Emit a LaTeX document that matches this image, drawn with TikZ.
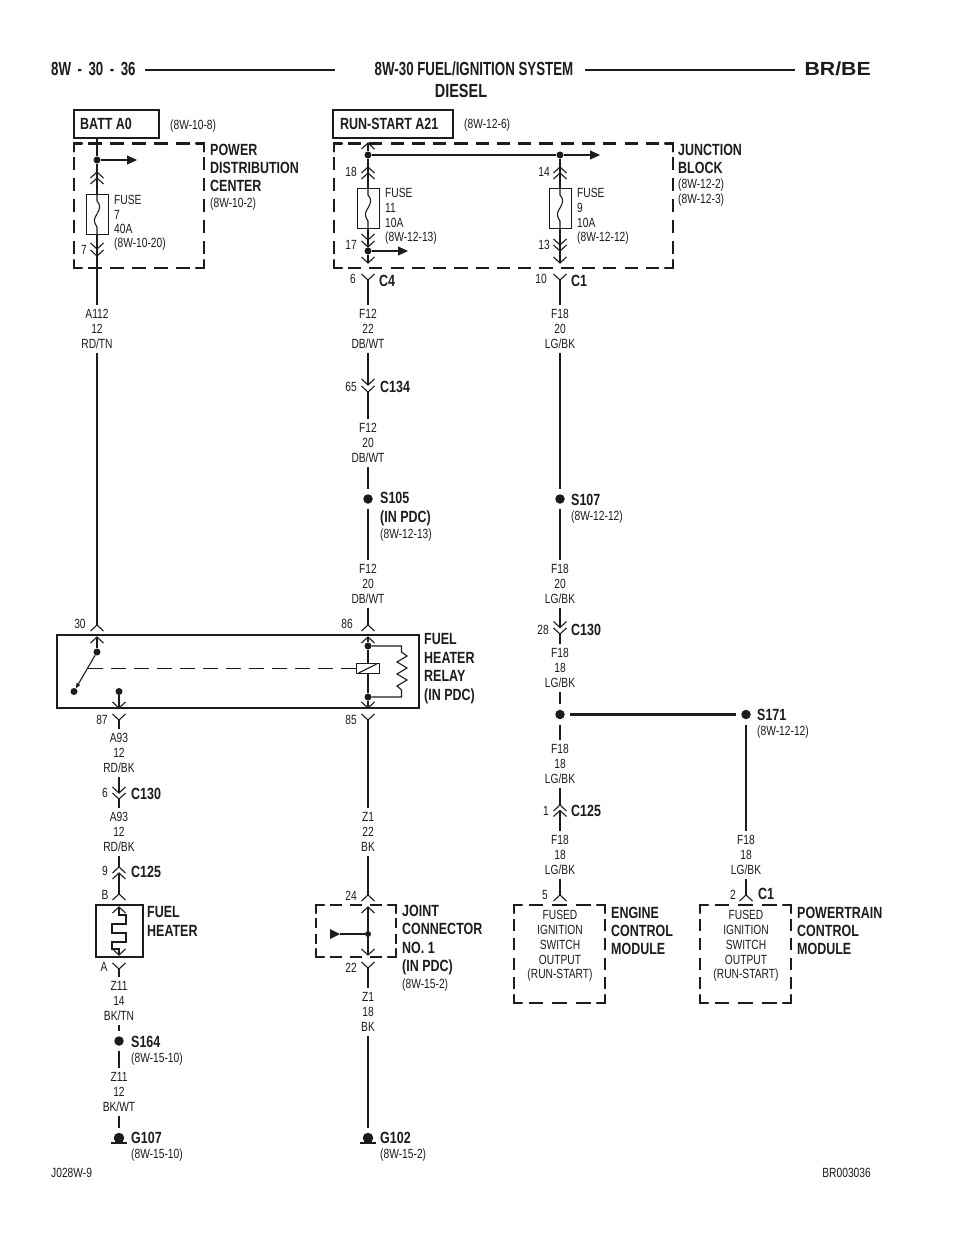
\documentclass[tikz,border=0pt]{standalone}
\usepackage{fontspec}
\setmainfont[FakeStretch=0.77]{Liberation Sans}
\newfontfamily\titlef[FakeStretch=0.70]{Liberation Sans}
\newfontfamily\titlewide[FakeStretch=0.76]{Liberation Sans}
\newfontfamily\widef[FakeStretch=1.12]{Liberation Sans}
\usetikzlibrary{arrows.meta,calc}
\definecolor{ink}{HTML}{1C1C1C}
\tikzset{
  wire/.style={line width=1.1pt,draw=ink},
  thick wire/.style={line width=2.4pt,draw=ink},
  frame/.style={line width=2.2pt,draw=ink},
  dot/.style={circle,fill=ink,inner sep=0pt,minimum size=7pt},
  bigdot/.style={circle,fill=ink,inner sep=0pt,minimum size=9.5pt,outer sep=5.5pt},
  grounddot/.style={circle,fill=ink,inner sep=0pt,minimum size=10.5pt,outer sep=5pt},
  wl/.style={align=center,inner xsep=0pt,inner ysep=4pt,text=ink,font=\fontsize{13.3}{15}\selectfont},
  mt/.style={align=center,inner sep=0pt,text=ink,font=\fontsize{13.3}{14.8}\selectfont},
  sm/.style={anchor=west,inner sep=0pt,text=ink,font=\fontsize{13.3}{15}\selectfont},
  pin/.style={anchor=center,inner sep=0pt,text=ink,font=\fontsize{13.3}{15}\selectfont},
  bl/.style={anchor=west,align=left,inner sep=0pt,text=ink,font=\bfseries\fontsize{16.2}{18.4}\selectfont},
  ttl/.style={inner sep=0pt,text=ink,font=\titlef\bfseries\fontsize{19}{20}\selectfont},
  arrowline/.style={wire,-{Triangle[length=10pt,width=9pt]}},
}
\newcommand\chevU[2]{\draw[wire,shift={(#1,#2)}] (-6.5,6) -- (0,0) -- (6.5,6);}
\newcommand\chevD[2]{\draw[wire,shift={(#1,#2)}] (-6.5,-6) -- (0,0) -- (6.5,-6);}
\newcommand\fusebox[3]{% name, x, top
  \node[draw=ink,line width=0.8pt,minimum width=22pt,minimum height=40pt,inner sep=0pt] (#1) at (#2,#3+20) {};
  \draw[wire,shift={(#2,#3)}] (0,0) -- (0,7) .. controls (3.5,11) and (3.5,14) .. (0,20) .. controls (-3.5,25) and (-3.5,28) .. (0,33) -- (0,40);
}
% dashed box with L corners and evenly spaced side dashes
\newcommand\dside[4]{%
  \pgfmathsetmacro\dsLen{veclen(#3-#1,#4-#2)}%
  \pgfmathsetmacro\dsNum{max(1,round((\dsLen-20)/21))}%
  \pgfmathsetmacro\dsPer{(\dsLen-20)/\dsNum}%
  \pgfmathsetmacro\dsOn{\dsPer*0.62}%
  \pgfmathsetmacro\dsOff{\dsPer*0.38}%
  \pgfmathsetmacro\dsPh{\dsOn+\dsOff/2}%
  \pgfmathsetmacro\dsFx{(#3-#1)/\dsLen*10}%
  \pgfmathsetmacro\dsFy{(#4-#2)/\dsLen*10}%
  \draw[frame,dash pattern=on \dsOn pt off \dsOff pt,dash phase=\dsPh pt] ({#1+\dsFx},{#2+\dsFy}) -- ({#3-\dsFx},{#4-\dsFy});
}
\newcommand\dbox[4]{%
  \draw[frame,line cap=round] (#1+8,#2) -- (#1,#2) -- (#1,#2+8);
  \draw[frame,line cap=round] (#3-8,#2) -- (#3,#2) -- (#3,#2+8);
  \draw[frame,line cap=round] (#1+8,#4) -- (#1,#4) -- (#1,#4-8);
  \draw[frame,line cap=round] (#3-8,#4) -- (#3,#4) -- (#3,#4-8);
  \dside{#1}{#2}{#3}{#2}\dside{#1}{#4}{#3}{#4}\dside{#1}{#2}{#1}{#4}\dside{#3}{#2}{#3}{#4}
}
\begin{document}
\begin{tikzpicture}[x=1pt,y=-1pt]
\useasboundingbox (0,0) rectangle (960,1242);
\fill[white] (0,0) rectangle (960,1242);
% ---------- title
\node[ttl,anchor=west] (t1) at (51,69) {8W\kern2.8pt\ -\kern2.8pt\ 30\kern2.8pt\ -\kern2.8pt\ 36};
\node[ttl] (t2) at (474,69) {8W-30 FUEL/IGNITION SYSTEM};
\node[anchor=east,inner sep=0pt,text=ink,font=\widef\bfseries\fontsize{19}{20}\selectfont] (t3) at (871,69) {BR/BE};
\node[inner sep=0pt,text=ink,font=\titlewide\bfseries\fontsize{19}{20}\selectfont] (t4) at (461,91) {DIESEL};
\coordinate (tl1) at (145,70); \coordinate (tl2) at (335,70); \coordinate (tl3) at (585,70); \coordinate (tl4) at (795,70);
\draw[thick wire] (tl1) -- (tl2);
\draw[thick wire] (tl3) -- (tl4);
% ---------- PDC
\node[frame,draw,minimum width=85.5pt,minimum height=28pt,inner sep=0pt] (batt) at (116.5,124) {};
\node[bl] (battt) at (80,124) {BATT A0};
\node[sm] (battr) at (170,126) {(8W-10-8)};
\dbox{74}{143.5}{204}{268}
\node[bl] (pdcl) at (210,168) {POWER\\DISTRIBUTION\\CENTER};
\node[sm] (pdcr) at (210,204) {(8W-10-2)};
\node[dot] (pd) at (97,160) {};
\coordinate (pdarr) at (137,160);
\draw[arrowline] (pd) -- (pdarr);
\fusebox{f7}{97}{194}
\draw[wire] (batt.south -| pd) -- (pd);
\coordinate (f7t) at (97,194); \coordinate (f7b) at (97,234); \coordinate (f7e) at (97,256);
\draw[wire] (pd) -- (f7t);
\draw[wire] (f7b) -- (f7e);
\chevU{97}{172}\chevU{97}{178}\chevD{97}{249}\chevD{97}{256}
\node[sm] (f7l) at (114,199.5) {FUSE};
\node[sm] (f7l2) at (114,214.5) {7};
\node[sm] (f7l3) at (114,229) {40A};
\node[sm] (f7l4) at (114,244.5) {(8W-10-20)};
\node[pin] (p7) at (84,250) {7};
\node[wl] (wa112) at (97,329) {A112\\12\\RD/TN};
\draw[wire] (f7e) -- (wa112.north);
\coordinate (r30) at (97,625);
\draw[wire] (wa112.south) -- (r30);
\chevU{97}{625}
\node[pin] (p30) at (80,624) {30};
% ---------- Junction block
\node[frame,draw,minimum width=120pt,minimum height=28pt,inner sep=0pt] (rs) at (393,124) {};
\node[bl] (rst) at (340,124) {RUN-START A21};
\node[sm] (rsr) at (464,125) {(8W-12-6)};
\dbox{334}{143.5}{673}{268}
\node[bl] (jbl) at (678,159) {JUNCTION\\BLOCK};
\node[sm] (jbr) at (678,185) {(8W-12-2)};
\node[sm] (jbr2) at (678,200) {(8W-12-3)};
\node[dot] (ja) at (368,155) {};
\node[dot] (jb) at (560,155) {};
\coordinate (jarr) at (600,155);
\coordinate (jtop) at (368,143);
\draw[wire] (jtop) -- (ja);
\draw[wire] (ja) -- (jb);
\draw[arrowline] (jb) -- (jarr);
\chevU{368}{143}
\chevU{368}{167}\chevU{368}{173}
\chevU{560}{167}\chevU{560}{173}
\fusebox{f11}{368}{188}
\fusebox{f9}{560}{188}
\coordinate (f11t) at (368,188); \coordinate (f11b) at (368,228); \coordinate (f11e) at (368,263);
\coordinate (f9t) at (560,188); \coordinate (f9b) at (560,228); \coordinate (f9e) at (560,263);
\draw[wire] (ja) -- (f11t);
\draw[wire] (jb) -- (f9t);
\node[dot] (jc) at (368,251) {};
\coordinate (jcarr) at (408,251);
\draw[wire] (f11b) -- (jc);
\draw[wire] (jc) -- (f11e);
\draw[arrowline] (jc) -- (jcarr);
\draw[wire] (f9b) -- (f9e);
\chevD{368}{240}\chevD{368}{247}\chevD{368}{263}
\chevD{560}{245}\chevD{560}{251}\chevD{560}{263}
\node[pin] (p18) at (351,172) {18};
\node[pin] (p17) at (351,245) {17};
\node[pin] (p14) at (544,172) {14};
\node[pin] (p13) at (544,245) {13};
\node[sm] (a1) at (385,193) {FUSE};
\node[sm] (a2) at (385,208) {11};
\node[sm] (a3) at (385,223) {10A};
\node[sm] (a4) at (385,238.5) {(8W-12-13)};
\node[sm] (b1) at (577,193) {FUSE};
\node[sm] (b2) at (577,208) {9};
\node[sm] (b3) at (577,223) {10A};
\node[sm] (b4) at (577,238.5) {(8W-12-12)};
% ---------- F12 column
\chevD{368}{280}
\coordinate (c4) at (368,280);
\node[pin] (p6) at (353,279) {6};
\node[bl] (c4l) at (379,281) {C4};
\node[wl] (wf1) at (368,329) {F12\\22\\DB/WT};
\draw[wire] (c4) -- (wf1.north);
\coordinate (c134a) at (368,385);
\coordinate (c134) at (368,392);
\draw[wire] (wf1.south) -- (c134a);
\chevD{368}{385}\chevD{368}{392}
\node[pin] (p65) at (351,387) {65};
\node[bl] (c134l) at (380,387) {C134};
\node[wl] (wf2) at (368,443) {F12\\20\\DB/WT};
\draw[wire] (c134) -- (wf2.north);
\node[bigdot] (s105) at (368,499) {};
\draw[wire] (wf2.south) -- (s105);
\node[bl] (s105l) at (380,509) {S105\\(IN PDC)};
\node[sm] (s105r) at (380,535) {(8W-12-13)};
\node[wl] (wf3) at (368,584) {F12\\20\\DB/WT};
\draw[wire] (s105) -- (wf3.north);
\coordinate (r86) at (368,625);
\draw[wire] (wf3.south) -- (r86);
\chevU{368}{625}
\node[pin] (p86) at (347,624) {86};
% ---------- relay
\node[frame,draw,minimum width=362pt,minimum height=73pt,inner sep=0pt] (relay) at (238,671.5) {};
\node[bl] (rell) at (424,668.5) {FUEL\\HEATER\\RELAY\\(IN PDC)};
\chevU{97}{637}\chevU{368}{637}
\node[dot] (sw1) at (97,652) {};
\node[dot] (sw2) at (74,691.5) {};
\node[dot] (sw3) at (119,691.5) {};
\coordinate (r30i) at (97,637);
\coordinate (r87i) at (119,708);
\draw[wire] (r30i) -- (sw1);
\draw[wire,-{Triangle[length=5pt,width=4pt]}] (sw1) -- (sw2);
\draw[wire] (sw3) -- (r87i);
\chevD{119}{708}
\node[draw=ink,line width=1pt,minimum width=23pt,minimum height=10pt,inner sep=0pt] (coil) at (367.5,668.5) {};
\draw[wire] ($(coil.south west)+(3,-1)$) -- ($(coil.north east)+(-3,1)$);
\coordinate (blade) at (88,668.5);
\draw[wire,dash pattern=on 15pt off 8pt] (blade) -- (coil.west);
\node[dot] (ctop) at (368,646) {};
\node[dot] (cbot) at (368,697) {};
\coordinate (r86i) at (368,637);
\coordinate (r85i) at (368,708);
\draw[wire] (r86i) -- (ctop);
\draw[wire] (ctop) -- (ctop |- coil.north);
\draw[wire] (coil.south -| cbot) -- (cbot);
\draw[wire] (cbot) -- (r85i);
\chevD{368}{708}
\draw[wire] (ctop) -- (401.5,646) -- (401.5,652) -- (407,656) -- (397,662) -- (407,668) -- (397,674) -- (407,680) -- (397,686) -- (401.5,690) -- (401.5,697) -- (cbot);
\chevD{119}{720}
\chevD{368}{720}
\node[pin] (p87) at (102,720) {87};
\node[pin] (p85) at (351,720) {85};
% ---------- A93 column
\coordinate (y87) at (119,720);
\node[wl] (wa1) at (119,753) {A93\\12\\RD/BK};
\draw[wire] (y87) -- (wa1.north);
\coordinate (c130x) at (119,793);
\coordinate (c130a) at (119,799);
\draw[wire] (wa1.south) -- (c130x);
\chevD{119}{793}\chevD{119}{799}
\node[pin] (p6b) at (105,793) {6};
\node[bl] (c130al) at (131,794) {C130};
\node[wl] (wa2) at (119,832) {A93\\12\\RD/BK};
\draw[wire] (c130a) -- (wa2.north);
\coordinate (c125x) at (119,867);
\coordinate (c125a) at (119,873);
\coordinate (yb) at (119,894);
\draw[wire] (wa2.south) -- (c125x);
\draw[wire] (c125a) -- (yb);
\chevU{119}{867}\chevU{119}{873}
\chevU{119}{894}
\node[pin] (p9) at (105,871) {9};
\node[bl] (c125al) at (131,872) {C125};
\node[pin] (pb) at (105,895) {B};
% ---------- fuel heater
\node[frame,draw,minimum width=47pt,minimum height=52pt,inner sep=0pt] (heater) at (119.5,931) {};
\node[bl] (hl) at (147,921.5) {FUEL\\HEATER};
\chevU{119}{907}\chevD{119}{955}
\draw[wire] (119,907) -- (119,915) -- (126,915) -- (126,924) -- (112,924) -- (112,933) -- (126,933) -- (126,942) -- (112,942) -- (112,949) -- (119,949) -- (119,955);
\chevD{119}{969}
\node[pin] (pa) at (104,967) {A};
\coordinate (ya) at (119,969);
\node[wl] (wz1) at (119,1001) {Z11\\14\\BK/TN};
\draw[wire] (ya) -- (wz1.north);
\node[bigdot] (s164) at (119,1041) {};
\draw[wire] (wz1.south) -- (s164);
\node[bl] (s164l) at (131,1042) {S164};
\node[sm] (s164r) at (131,1059) {(8W-15-10)};
\node[wl] (wz2) at (119,1092) {Z11\\12\\BK/WT};
\draw[wire] (s164) -- (wz2.north);
\node[grounddot] (g107) at (119,1138) {};
\draw[wire] (wz2.south) -- (g107);
\coordinate (g107a) at (111,1143); \coordinate (g107b) at (127,1143);
\draw[wire,line width=1.6pt] (g107a) -- (g107b);
\node[bl] (g107l) at (131,1137.5) {G107};
\node[sm] (g107r) at (131,1155) {(8W-15-10)};
% ---------- Z1 column
\coordinate (y85) at (368,720);
\node[wl] (wz3) at (368,832) {Z1\\22\\BK};
\draw[wire] (y85) -- (wz3.north);
\coordinate (y24) at (368,895);
\draw[wire] (wz3.south) -- (y24);
\chevU{368}{895}
\node[pin] (p24) at (351,896) {24};
\dbox{316}{905}{396}{957}
\node[bl] (jcl) at (402,940) {JOINT\\CONNECTOR\\NO. 1\\(IN PDC)};
\node[sm] (jcr) at (402,985) {(8W-15-2)};
\chevU{368}{907}\chevD{368}{955}
\node[dot,minimum size=6pt] (jd) at (368,934) {};
\coordinate (jt) at (368,907); \coordinate (jbb) at (368,955); \coordinate (y22) at (368,968);
\coordinate (jleft) at (340,934);
\draw[wire] (jt) -- (jd);
\draw[wire] (jd) -- (jbb);
\draw[wire] (jd) -- (jleft);
\fill[ink] (330,929) -- (340,934) -- (330,939) -- cycle;
\chevD{368}{968}
\node[pin] (p22) at (351,968) {22};
\node[wl] (wz4) at (368,1012) {Z1\\18\\BK};
\draw[wire] (y22) -- (wz4.north);
\node[grounddot] (g102) at (368,1138) {};
\draw[wire] (wz4.south) -- (g102);
\coordinate (g102a) at (360,1143); \coordinate (g102b) at (376,1143);
\draw[wire,line width=1.6pt] (g102a) -- (g102b);
\node[bl] (g102l) at (380,1137.5) {G102};
\node[sm] (g102r) at (380,1155) {(8W-15-2)};
% ---------- F18 column
\chevD{560}{280}
\coordinate (c1) at (560,280);
\node[pin] (p10) at (541,279) {10};
\node[bl] (c1l) at (571,281) {C1};
\node[wl] (wg1) at (560,329) {F18\\20\\LG/BK};
\draw[wire] (c1) -- (wg1.north);
\node[bigdot] (s107) at (560,499) {};
\draw[wire] (wg1.south) -- (s107);
\node[bl] (s107l) at (571,500) {S107};
\node[sm] (s107r) at (571,517) {(8W-12-12)};
\node[wl] (wg2) at (560,584) {F18\\20\\LG/BK};
\draw[wire] (s107) -- (wg2.north);
\coordinate (c130y) at (560,627.5);
\coordinate (c130b) at (560,634);
\draw[wire] (wg2.south) -- (c130y);
\chevD{560}{627.5}\chevD{560}{634}
\node[pin] (p28) at (543,630) {28};
\node[bl] (c130bl) at (571,630) {C130};
\node[wl] (wg3) at (560,668) {F18\\18\\LG/BK};
\draw[wire] (c130b) -- (wg3.north);
\node[bigdot] (s171a) at (560,714.5) {};
\node[bigdot] (s171) at (746,714.5) {};
\draw[wire] (wg3.south) -- (s171a);
\draw[thick wire] (s171a) -- (s171);
\node[bl] (s171l) at (757,715) {S171};
\node[sm] (s171r) at (757,732) {(8W-12-12)};
\node[wl] (wg4) at (560,764) {F18\\18\\LG/BK};
\draw[wire] (s171a) -- (wg4.north);
\coordinate (c125y) at (560,805);
\coordinate (c125b) at (560,810.5);
\draw[wire] (wg4.south) -- (c125y);
\chevU{560}{805}\chevU{560}{810.5}
\node[pin] (p1) at (546,811) {1};
\node[bl] (c125bl) at (571,811) {C125};
\node[wl] (wg5) at (560,855) {F18\\18\\LG/BK};
\draw[wire] (c125b) -- (wg5.north);
\coordinate (y5) at (560,895);
\draw[wire] (wg5.south) -- (y5);
\chevU{560}{895}
\node[pin] (p5) at (545,895) {5};
\dbox{514}{905}{605}{1003}
\node[mt] (ecmt) at (560,946) {FUSED\\IGNITION\\SWITCH\\OUTPUT\\(RUN-START)};
\node[bl] (ecml) at (611,931) {ENGINE\\CONTROL\\MODULE};
% ---------- PCM
\node[wl] (wg6) at (746,855) {F18\\18\\LG/BK};
\draw[wire] (s171) -- (wg6.north);
\coordinate (y2) at (746,895);
\draw[wire] (wg6.south) -- (y2);
\chevU{746}{895}
\node[pin] (p2) at (733,895) {2};
\node[bl] (c1bl) at (758,894) {C1};
\dbox{700}{905}{791}{1003}
\node[mt] (pcmt) at (746,946) {FUSED\\IGNITION\\SWITCH\\OUTPUT\\(RUN-START)};
\node[bl] (pcml) at (797,931) {POWERTRAIN\\CONTROL\\MODULE};
% ---------- footer
\node[sm] (fl) at (51,1173) {J028W-9};
\node[sm,anchor=east] (fr) at (871,1173) {BR003036};
\end{tikzpicture}
\end{document}
